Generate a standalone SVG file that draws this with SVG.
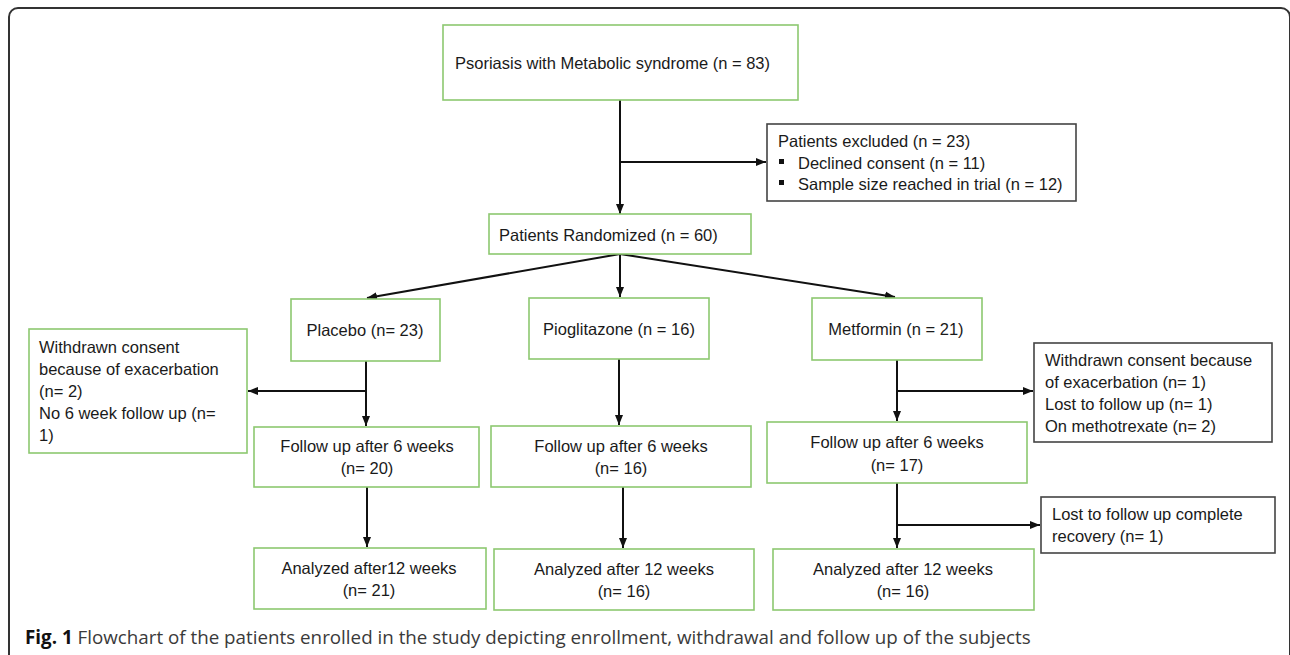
<svg xmlns="http://www.w3.org/2000/svg" width="1290" height="655" viewBox="0 0 1290 655">
<defs>
<marker id="ah" viewBox="0 0 10 10" refX="10" refY="5" markerWidth="10" markerHeight="10" markerUnits="userSpaceOnUse" orient="auto">
<path d="M0,1 L10,5 L0,9 z" fill="#111"/>
</marker>
</defs>
<style>
.g{fill:#fff;stroke:#8dc870;stroke-width:1.6}
.k{fill:#fff;stroke:#444;stroke-width:1.6}
.t{font-family:"Liberation Sans",Arial,sans-serif;font-size:16.5px;fill:#1a1a1a;dominant-baseline:central}
.c{text-anchor:middle}
.ln{stroke:#111;stroke-width:2;fill:none}
.ar{stroke:#111;stroke-width:2;fill:none;marker-end:url(#ah)}
.cap{font-family:"Open Sans",sans-serif;font-size:18.8px;fill:#3a3a3a;dominant-baseline:central}
</style>
<rect x="9" y="8" width="1281" height="662" rx="9" fill="none" stroke="#333" stroke-width="2"/>
<g id="connectors">
<path class="ar" d="M620,100 V214"/>
<path class="ar" d="M620,162 H766"/>
<path class="ar" d="M620,254 L367,298"/>
<path class="ar" d="M620,254 V297"/>
<path class="ar" d="M620,254 L895,297"/>
<path class="ar" d="M366,361 V426"/>
<path class="ar" d="M366,391 H248"/>
<path class="ar" d="M619,359 V425"/>
<path class="ar" d="M897,360 V421"/>
<path class="ar" d="M897,391 H1033"/>
<path class="ar" d="M367,487 V547"/>
<path class="ar" d="M623,487 V548"/>
<path class="ar" d="M897,483 V548"/>
<path class="ar" d="M897,525 H1040"/>
</g>
<g id="n-start">
<rect class="g" x="443" y="25" width="355" height="75"/>
<text class="t" x="455" y="63">Psoriasis with Metabolic syndrome  (n = 83)</text>
</g>
<g id="n-excluded">
<rect class="k" x="767" y="124" width="309" height="77"/>
<text class="t" x="778" y="141">Patients excluded (n = 23)</text>
<rect x="779" y="159" width="5" height="5" fill="#111"/>
<text class="t" x="798" y="163">Declined consent (n = 11)</text>
<rect x="779" y="180" width="5" height="5" fill="#111"/>
<text class="t" x="798" y="184">Sample size reached in trial (n = 12)</text>
</g>
<g id="n-randomized">
<rect class="g" x="489" y="214" width="262" height="40"/>
<text class="t" x="499" y="235">Patients Randomized  (n = 60)</text>
</g>
<g id="n-placebo">
<rect class="g" x="291" y="299" width="149" height="62"/>
<text class="t c" x="365" y="330">Placebo (n= 23)</text>
</g>
<g id="n-pioglitazone">
<rect class="g" x="529" y="298" width="180" height="61"/>
<text class="t c" x="619" y="329">Pioglitazone (n = 16)</text>
</g>
<g id="n-metformin">
<rect class="g" x="812" y="298" width="170" height="62"/>
<text class="t c" x="896" y="329">Metformin  (n = 21)</text>
</g>
<g id="n-withdrawn-placebo">
<rect class="g" x="29" y="329" width="218" height="124"/>
<text class="t" x="39" y="347">Withdrawn consent</text>
<text class="t" x="39" y="369">because of exacerbation</text>
<text class="t" x="39" y="391">(n= 2)</text>
<text class="t" x="39" y="413">No 6 week follow up (n=</text>
<text class="t" x="39" y="435">1)</text>
</g>
<g id="n-withdrawn-metformin">
<rect class="k" x="1034" y="343" width="238" height="99"/>
<text class="t" x="1045" y="360">Withdrawn consent because</text>
<text class="t" x="1045" y="382">of exacerbation (n= 1)</text>
<text class="t" x="1045" y="404">Lost to follow up (n= 1)</text>
<text class="t" x="1045" y="426">On methotrexate (n= 2)</text>
</g>
<g id="n-fu-placebo">
<rect class="g" x="254" y="427" width="225" height="60"/>
<text class="t c" x="367" y="446">Follow up after 6 weeks</text>
<text class="t c" x="367" y="468">(n= 20)</text>
</g>
<g id="n-fu-pioglitazone">
<rect class="g" x="491" y="426" width="260" height="61"/>
<text class="t c" x="621" y="446">Follow up after 6 weeks</text>
<text class="t c" x="621" y="468">(n= 16)</text>
</g>
<g id="n-fu-metformin">
<rect class="g" x="767" y="422" width="260" height="61"/>
<text class="t c" x="897" y="442">Follow up after 6 weeks</text>
<text class="t c" x="897" y="465">(n= 17)</text>
</g>
<g id="n-lost">
<rect class="k" x="1041" y="497" width="234" height="56"/>
<text class="t" x="1052" y="514">Lost to follow up complete</text>
<text class="t" x="1052" y="536">recovery (n= 1)</text>
</g>
<g id="n-an-placebo">
<rect class="g" x="254" y="548" width="232" height="61"/>
<text class="t c" x="369" y="568">Analyzed after12 weeks</text>
<text class="t c" x="369" y="590">(n= 21)</text>
</g>
<g id="n-an-pioglitazone">
<rect class="g" x="494" y="549" width="260" height="61"/>
<text class="t c" x="624" y="569">Analyzed after 12 weeks</text>
<text class="t c" x="624" y="591">(n= 16)</text>
</g>
<g id="n-an-metformin">
<rect class="g" x="773" y="549" width="261" height="61"/>
<text class="t c" x="903" y="569">Analyzed after 12 weeks</text>
<text class="t c" x="903" y="591">(n= 16)</text>
</g>
<text class="cap" x="25" y="637"><tspan font-weight="bold" fill="#111">Fig. 1</tspan> Flowchart of the patients enrolled in the study depicting enrollment, withdrawal and follow up of the subjects</text>
</svg>
